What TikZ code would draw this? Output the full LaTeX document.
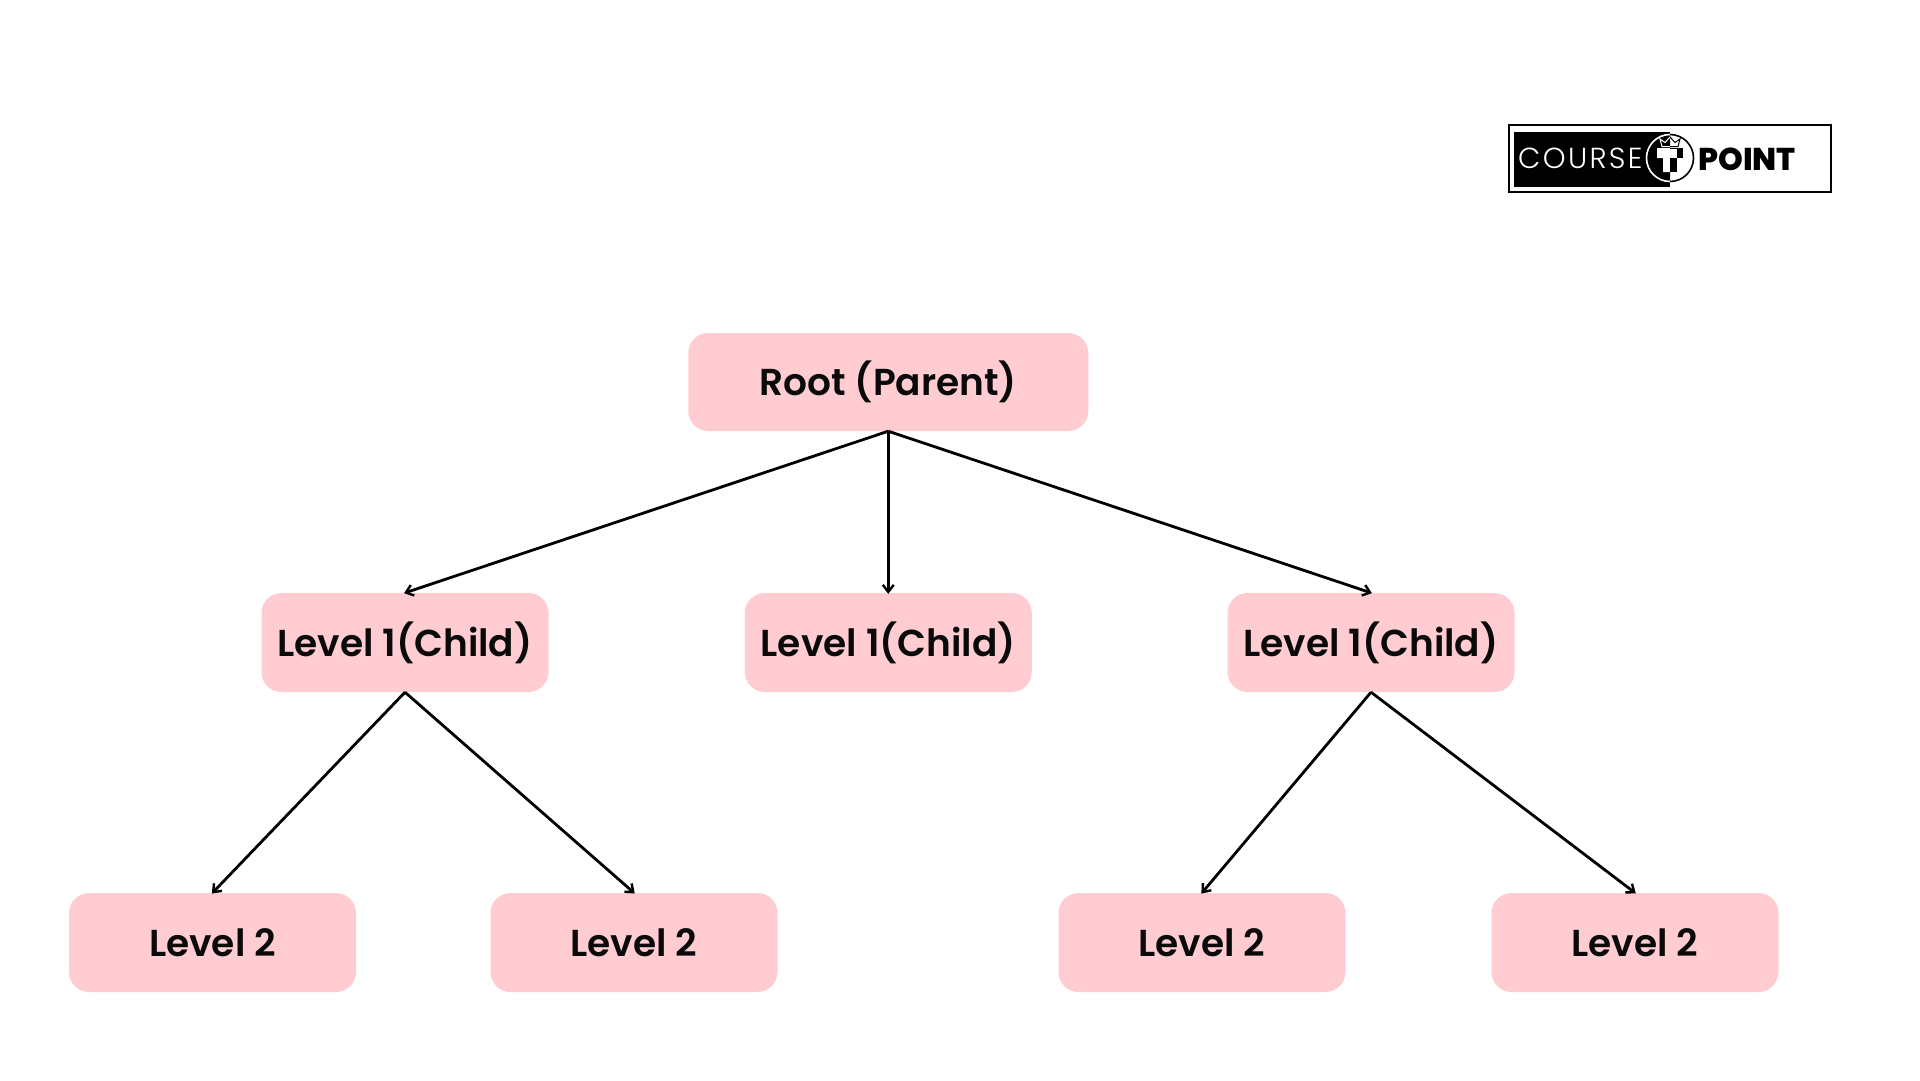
\documentclass[tikz,border=0pt]{standalone}
\usepackage{fontspec}
\setmainfont{Poppins}[BoldFont={Poppins SemiBold}]
\newfontfamily\logolight{Poppins Light}[LetterSpace=8]
\newfontfamily\logoheavy{Poppins ExtraBold}
\usetikzlibrary{arrows.meta}
\definecolor{boxpink}{HTML}{FFCCD1}
\definecolor{inkblack}{HTML}{0A0A0A}
\tikzset{
  x=1pt,y=-1pt,
  treebox/.style={fill=boxpink,rounded corners=20pt,inner sep=0pt,text=inkblack,
    font=\bfseries\fontsize{37.5}{40}\selectfont,anchor=center},
  rootbox/.style={treebox,minimum width=400pt,minimum height=98pt},
  levelbox/.style={treebox,minimum width=287pt,minimum height=99pt},
  link/.style={draw=black,line width=2.8pt,-{Straight Barb[length=7pt,width=11pt,line width=2.4pt]},shorten >=-1pt},
}
\begin{document}
\begin{tikzpicture}
\useasboundingbox (0,0) rectangle (1920,1080);
\fill[white] (0,0) rectangle (1920,1080);
\node[rootbox] (root) at (888.25,382) {Root (Parent)};
\node[levelbox] (a) at (405,642.5) {Level 1(Child)};
\node[levelbox] (b) at (888.25,642.5) {Level 1(Child)};
\node[levelbox] (c) at (1371,642.5) {Level 1(Child)};
\node[levelbox] (a1) at (212.5,942.5) {Level 2};
\node[levelbox] (a2) at (634,942.5) {Level 2};
\node[levelbox] (c1) at (1202,942.5) {Level 2};
\node[levelbox] (c2) at (1635,942.5) {Level 2};
\draw[link] (root.south) -- (a.north);
\draw[link] (root.south) -- (b.north);
\draw[link] (root.south) -- (c.north);
\draw[link] (a.south) -- (a1.north);
\draw[link] (a.south) -- (a2.north);
\draw[link] (c.south) -- (c1.north);
\draw[link] (c.south) -- (c2.north);
% logo frame and black panel
\draw[black,line width=1.6pt] (1509,125) rectangle (1831,192);
\fill[black] (1514,131.5) rectangle (1670,187);
% badge: ring white on the black half, black on the white half
\fill[white] (1670,134.5) arc[start angle=-90,end angle=90,radius=23.5] -- cycle;
\draw[black,line width=1.6pt] (1670,134.5) arc[start angle=-90,end angle=90,radius=23.5];
\fill[black] (1670,134.5) arc[start angle=-90,end angle=-270,radius=23.5] -- cycle;
\draw[white,line width=1.6pt] (1670,134.5) arc[start angle=-90,end angle=-270,radius=23.5];
% T monogram
\fill[white] (1657,148) -- (1677,148) -- (1677,158) -- (1670,158) -- (1670,172) -- (1663,172) -- (1663,158) -- (1657,158) -- cycle;
\fill[black] (1670,158) -- (1677,158) -- (1677,172) -- (1670,172) -- cycle;
\fill[black] (1677,148) -- (1683,148) -- (1683,158) -- (1677,158) -- cycle;
\draw[black,line width=1pt] (1670,148) -- (1677,148) (1670,158) -- (1677,158);
% crown
\begin{scope}
\clip (1640,130) rectangle (1670,150);
\draw[white,line width=1pt] (1662,146.5) -- (1660,139) -- (1665,142.5) -- (1670,137) -- (1675,142.5) -- (1680,139) -- (1678,146.5) -- cycle;
\end{scope}
\begin{scope}
\clip (1670,130) rectangle (1700,150);
\draw[black,line width=1pt] (1662,146.5) -- (1660,139) -- (1665,142.5) -- (1670,137) -- (1675,142.5) -- (1680,139) -- (1678,146.5) -- cycle;
\end{scope}
\node[inner sep=0pt,anchor=west,text=white,font=\logolight\fontsize{29}{32}\selectfont] (course) at (1518,158) {COURSE};
\node[inner sep=0pt,anchor=west,text=black,font=\logoheavy\fontsize{31.5}{32}\selectfont] (point) at (1698,159) {POINT};
\end{tikzpicture}
\end{document}
